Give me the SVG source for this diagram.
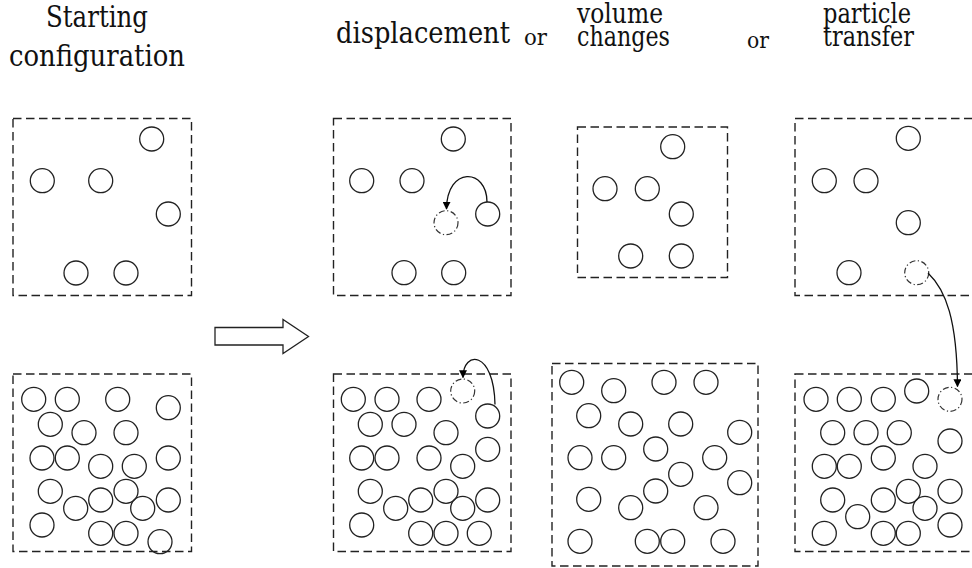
<svg xmlns="http://www.w3.org/2000/svg" width="972" height="568" viewBox="0 0 972 568">
  <style>
    text { font-family: "DejaVu Serif", serif; fill: #111; }
    .lbl { font-size: 29px; }
    .sub { font-size: 27px; }
    .or { font-size: 23px; }
    .box { fill: none; stroke: #222; stroke-width: 1.4; stroke-dasharray: 8.5 4.5; }
    .p { fill: none; stroke: #222; stroke-width: 1.3; }
    .ghost { fill: none; stroke: #333; stroke-width: 1.2; stroke-dasharray: 6 2.5 1.2 2.5; }
    .move { fill: none; stroke: #111; stroke-width: 1.3; }
  </style>
  <defs>
    <marker id="head" viewBox="0 0 10 10" refX="9" refY="5" markerWidth="8" markerHeight="8" markerUnits="userSpaceOnUse" orient="auto">
      <path d="M0,0 L10,5 L0,10 z" fill="#000"/>
    </marker>
    <circle id="c" r="12" class="p"/>
  </defs>
  <rect width="972" height="568" fill="#fff"/>

  <!-- column headings -->
  <g id="headings">
    <text class="lbl" x="46" y="27" textLength="102" lengthAdjust="spacingAndGlyphs">Starting</text>
    <text class="lbl" x="9" y="66" textLength="176" lengthAdjust="spacingAndGlyphs">configuration</text>
    <text class="lbl" x="336" y="43" textLength="174" lengthAdjust="spacingAndGlyphs">displacement</text>
    <text class="or" x="524" y="45" textLength="23" lengthAdjust="spacingAndGlyphs">or</text>
    <text class="sub" x="577" y="23" textLength="86" lengthAdjust="spacingAndGlyphs">volume</text>
    <text class="sub" x="577" y="46" textLength="93" lengthAdjust="spacingAndGlyphs">changes</text>
    <text class="or" x="747" y="48" textLength="22" lengthAdjust="spacingAndGlyphs">or</text>
    <text class="sub" x="823" y="23" textLength="88" lengthAdjust="spacingAndGlyphs">particle</text>
    <text class="sub" x="823" y="46" textLength="91" lengthAdjust="spacingAndGlyphs">transfer</text>
  </g>

  <!-- starting configuration, dilute -->
  <g id="start-dilute">
    <rect class="box" x="13" y="118.5" width="178.5" height="177"/>
    <use href="#c" x="151.7" y="139"/>
    <use href="#c" x="42.3" y="180.7"/>
    <use href="#c" x="100.7" y="180.7"/>
    <use href="#c" x="168.3" y="214"/>
    <use href="#c" x="76" y="273"/>
    <use href="#c" x="126" y="273"/>
  </g>

  <!-- starting configuration, dense -->
  <g id="start-dense">
    <rect class="box" x="13" y="374" width="178.5" height="177.5"/>
    <use href="#c" x="33.7" y="399.3"/>
    <use href="#c" x="67.3" y="399.3"/>
    <use href="#c" x="117.7" y="399.3"/>
    <use href="#c" x="168.3" y="407.7"/>
    <use href="#c" x="50.3" y="424.3"/>
    <use href="#c" x="84" y="432.7"/>
    <use href="#c" x="126" y="432.7"/>
    <use href="#c" x="42" y="458"/>
    <use href="#c" x="67.3" y="458"/>
    <use href="#c" x="100.7" y="466.3"/>
    <use href="#c" x="134.3" y="466.3"/>
    <use href="#c" x="168.3" y="458"/>
    <use href="#c" x="50.3" y="491.3"/>
    <use href="#c" x="75.7" y="508.3"/>
    <use href="#c" x="100.7" y="500"/>
    <use href="#c" x="126" y="491.3"/>
    <use href="#c" x="142.7" y="508.3"/>
    <use href="#c" x="168.3" y="500"/>
    <use href="#c" x="42" y="525"/>
    <use href="#c" x="100.7" y="533.3"/>
    <use href="#c" x="126" y="533.3"/>
    <use href="#c" x="160" y="541.7"/>
  </g>

  <!-- hollow transition arrow -->
  <g id="step-arrow">
    <polygon points="215,327.5 283,327.5 283,319.5 308.5,336.5 283,353.5 283,345 215,345" fill="#fff" stroke="#222" stroke-width="1.3"/>
  </g>

  <!-- displacement, dilute -->
  <g id="disp-dilute">
    <rect class="box" x="333.5" y="118.5" width="177.5" height="177"/>
    <use href="#c" x="453.3" y="139"/>
    <use href="#c" x="361.7" y="180.7"/>
    <use href="#c" x="412" y="180.7"/>
    <use href="#c" x="487.7" y="214"/>
    <circle class="ghost" cx="446" cy="222.7" r="12"/>
    <use href="#c" x="404" y="272.7"/>
    <use href="#c" x="453.7" y="272.7"/>
  </g>

  <!-- displacement, dense -->
  <g id="disp-dense">
    <rect class="box" x="333.5" y="374" width="177.5" height="177.5"/>
    <use href="#c" x="353.3" y="399.3"/>
    <use href="#c" x="387" y="399.3"/>
    <use href="#c" x="429" y="399.3"/>
    <circle class="ghost" cx="462.7" cy="391" r="12"/>
    <use href="#c" x="487.7" y="416"/>
    <use href="#c" x="370.3" y="424.3"/>
    <use href="#c" x="404" y="424.3"/>
    <use href="#c" x="446" y="432.7"/>
    <use href="#c" x="361.7" y="458"/>
    <use href="#c" x="387" y="458"/>
    <use href="#c" x="429" y="458"/>
    <use href="#c" x="462.7" y="466.3"/>
    <use href="#c" x="487.7" y="449.3"/>
    <use href="#c" x="370.3" y="491.3"/>
    <use href="#c" x="395.7" y="508.3"/>
    <use href="#c" x="420.7" y="500"/>
    <use href="#c" x="446" y="491.3"/>
    <use href="#c" x="462.7" y="508.3"/>
    <use href="#c" x="487.7" y="500"/>
    <use href="#c" x="361.7" y="525"/>
    <use href="#c" x="420.7" y="533.3"/>
    <use href="#c" x="446" y="533.3"/>
    <use href="#c" x="479.3" y="533.3"/>
  </g>

  <!-- volume change, compressed -->
  <g id="vol-small">
    <rect class="box" x="577.5" y="127" width="150" height="150.5"/>
    <use href="#c" x="672.7" y="146.7"/>
    <use href="#c" x="605" y="188.7"/>
    <use href="#c" x="647.3" y="188.7"/>
    <use href="#c" x="681.3" y="214"/>
    <use href="#c" x="630.7" y="256"/>
    <use href="#c" x="681.3" y="256"/>
  </g>

  <!-- volume change, expanded -->
  <g id="vol-large">
    <rect class="box" x="552" y="363.5" width="206" height="202.5"/>
    <use href="#c" x="571.7" y="382.3"/>
    <use href="#c" x="613.7" y="390.7"/>
    <use href="#c" x="664" y="382.3"/>
    <use href="#c" x="706" y="382.3"/>
    <use href="#c" x="588.7" y="415.7"/>
    <use href="#c" x="630.7" y="424"/>
    <use href="#c" x="680.7" y="424"/>
    <use href="#c" x="739.7" y="432.3"/>
    <use href="#c" x="580" y="457.7"/>
    <use href="#c" x="613.7" y="457.7"/>
    <use href="#c" x="655.7" y="449"/>
    <use href="#c" x="714.7" y="457.7"/>
    <use href="#c" x="680.7" y="474.3"/>
    <use href="#c" x="739.7" y="482.7"/>
    <use href="#c" x="588.7" y="499.3"/>
    <use href="#c" x="630.7" y="507.7"/>
    <use href="#c" x="655.7" y="491"/>
    <use href="#c" x="706" y="507.7"/>
    <use href="#c" x="580" y="541.3"/>
    <use href="#c" x="647.3" y="541.3"/>
    <use href="#c" x="672.7" y="541.3"/>
    <use href="#c" x="723" y="541.3"/>
  </g>

  <!-- particle transfer, source box -->
  <g id="xfer-top">
    <rect class="box" x="795" y="118.5" width="200" height="177"/>
    <use href="#c" x="908.3" y="138.3"/>
    <use href="#c" x="824.3" y="180.7"/>
    <use href="#c" x="866" y="180.7"/>
    <use href="#c" x="908.3" y="222.7"/>
    <use href="#c" x="849" y="272.7"/>
    <circle class="ghost" cx="916.7" cy="272.7" r="12"/>
  </g>

  <!-- particle transfer, receiving box -->
  <g id="xfer-bottom">
    <rect class="box" x="795" y="374" width="200" height="177.5"/>
    <use href="#c" x="816" y="399.3"/>
    <use href="#c" x="849.3" y="399.3"/>
    <use href="#c" x="883.3" y="399.3"/>
    <use href="#c" x="916.7" y="391"/>
    <circle class="ghost" cx="950" cy="399.3" r="12"/>
    <use href="#c" x="832.7" y="432.7"/>
    <use href="#c" x="866" y="432.7"/>
    <use href="#c" x="899.3" y="432.7"/>
    <use href="#c" x="950" y="441"/>
    <use href="#c" x="824.3" y="466.3"/>
    <use href="#c" x="849.3" y="466.3"/>
    <use href="#c" x="883.3" y="458"/>
    <use href="#c" x="925" y="466.3"/>
    <use href="#c" x="832.7" y="500"/>
    <use href="#c" x="857.7" y="516.7"/>
    <use href="#c" x="883.3" y="500"/>
    <use href="#c" x="908.3" y="491.3"/>
    <use href="#c" x="925" y="508.3"/>
    <use href="#c" x="950" y="491.3"/>
    <use href="#c" x="824.3" y="533.3"/>
    <use href="#c" x="883.3" y="533.3"/>
    <use href="#c" x="908.3" y="533.3"/>
    <use href="#c" x="950" y="525"/>
  </g>

  <!-- trial move paths -->
  <g id="moves">
    <path class="move" d="M487,202 C487,168 447,166 446.5,209" marker-end="url(#head)"/>
    <path class="move" d="M495,404.5 C494,350 463,350 463,377.5" marker-end="url(#head)"/>
    <path class="move" d="M928,273 C946,290 957,320 957.5,386.5" marker-end="url(#head)"/>
  </g>
</svg>
